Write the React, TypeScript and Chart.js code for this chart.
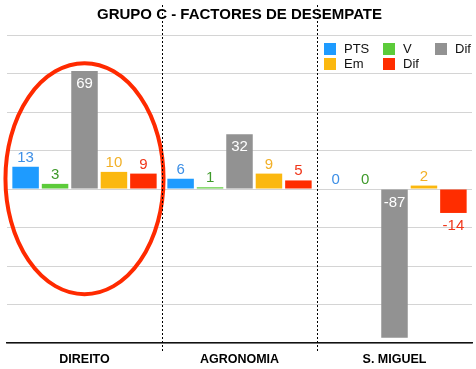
import React, { useEffect, useRef } from "react";
import { Chart, registerables } from "chart.js";

Chart.register(...registerables);

const TITLE = "GRUPO C - FACTORES DE DESEMPATE";
const categories = ["DIREITO", "AGRONOMIA", "S. MIGUEL"];
const seriesNames = ["PTS", "V", "Dif", "Em", "Dif"];
const ptsValues = [13, 6, 0];
const vValues = [3, 1, 0];
const difGrayValues = [69, 32, -87];
const emValues = [10, 9, 2];
const difRedValues = [9, 5, -14];
const barColors = ["#1E9BFF", "#5CCB3A", "#929292", "#FBB80F", "#FF2D00"];
const labelColors = ["#3D8FE6", "#3F9A2B", "#FFFFFF", "#F2B027", "#F0361A"];
const yMin = -90;
const yMax = 90;
const yStep = 22.5;
// legend layout: rows of series indices
const legendRows = [
  [0, 1, 2],
  [3, 4],
];
const legendColOffsets = [0, 59, 111];

const FONT = "'Liberation Sans', Arial, Helvetica, sans-serif";

const overlayPlugin = {
  id: "overlay",
  afterDatasetsDraw(chart: any) {
    const ctx = chart.ctx;
    const xs = chart.scales.x;
    const ys = chart.scales.y;
    // data labels
    ctx.save();
    ctx.font = `15px ${FONT}`;
    ctx.textAlign = "center";
    ctx.textBaseline = "alphabetic";
    chart.data.datasets.forEach((ds: any, di: number) => {
      const meta = chart.getDatasetMeta(di);
      meta.data.forEach((bar: any, i: number) => {
        const v = ds.data[i];
        const { x, y, base } = bar.getProps(["x", "y", "base"], true);
        ctx.fillStyle = labelColors[di];
        let ty;
        if (di === 2) {
          ty = Math.min(y, base) + 17;
        } else if (v >= 0) {
          ty = y - 5;
        } else {
          ty = y + 17;
        }
        ctx.fillText(String(v), x, ty);
      });
    });
    ctx.restore();

    // ellipse around first group
    const cx = xs.getPixelForValue(0);
    const catW = xs.getPixelForValue(1) - xs.getPixelForValue(0);
    const cy = ys.getPixelForValue(6);
    const ry = cy - ys.getPixelForValue(73.5);
    const rx = catW * 0.51;
    ctx.save();
    ctx.strokeStyle = "#FF2A00";
    ctx.lineWidth = 4;
    ctx.beginPath();
    ctx.ellipse(cx, cy, rx, ry, 0, 0, Math.PI * 2);
    ctx.stroke();
    ctx.restore();
  },
  afterDraw(chart: any) {
    const ctx = chart.ctx;
    const area = chart.chartArea;
    const xs = chart.scales.x;
    // title
    ctx.save();
    ctx.font = `bold 15px ${FONT}`;
    ctx.fillStyle = "#000";
    ctx.textAlign = "center";
    ctx.textBaseline = "alphabetic";
    ctx.fillText(TITLE, (area.left + area.right) / 2, 18.5);
    ctx.restore();

    // dividers
    ctx.save();
    ctx.strokeStyle = "#000";
    ctx.lineWidth = 1;
    ctx.setLineDash([2, 2]);
    for (let i = 0; i < categories.length - 1; i++) {
      const px = Math.round((xs.getPixelForValue(i) + xs.getPixelForValue(i + 1)) / 2) + 0.5;
      ctx.beginPath();
      ctx.moveTo(px, 5);
      ctx.lineTo(px, area.bottom + 8);
      ctx.stroke();
    }
    ctx.restore();

    // legend
    ctx.save();
    ctx.font = `13px ${FONT}`;
    ctx.textBaseline = "middle";
    ctx.textAlign = "left";
    const lx0 = area.right - 148;
    legendRows.forEach((row, r) => {
      const yTop = 43 + r * 15;
      row.forEach((si, c) => {
        const lx = lx0 + legendColOffsets[c];
        ctx.fillStyle = barColors[si];
        ctx.fillRect(lx, yTop, 12, 12);
        ctx.fillStyle = "#111";
        ctx.fillText(seriesNames[si], lx + 20, yTop + 6.5);
      });
    });
    ctx.restore();
  },
};

export default function App() {
  const ref = useRef<HTMLCanvasElement>(null);
  useEffect(() => {
    const series = [ptsValues, vValues, difGrayValues, emValues, difRedValues];
    const chart = new Chart(ref.current!, {
      type: "bar",
      data: {
        labels: categories,
        datasets: series.map((d, i) => ({
          label: seriesNames[i],
          data: d,
          backgroundColor: barColors[i],
          borderWidth: 0,
          categoryPercentage: 0.95,
          barPercentage: 0.9,
        })),
      },
      options: {
        responsive: false,
        animation: false,
        devicePixelRatio: 1,
        layout: { padding: { left: 7, right: 4, top: 35, bottom: 0 } },
        plugins: {
          legend: { display: false },
          title: { display: false },
          tooltip: { enabled: false },
        },
        scales: {
          x: {
            grid: { display: false, drawTicks: false },
            border: { display: true, color: "#111", width: 1.5 },
            ticks: {
              color: "#000",
              font: { family: FONT, size: 12.5, weight: "bold" },
              padding: 9,
            },
            afterFit(scale: any) {
              scale.height = 26;
            },
          },
          y: {
            min: yMin,
            max: yMax,
            ticks: { display: false, stepSize: yStep },
            grid: { color: "#D4D4D4", drawTicks: false, lineWidth: 1 },
            border: { display: false },
          },
        },
      },
      plugins: [overlayPlugin],
    });
    return () => chart.destroy();
  }, []);
  return (
    <div style={{ position: "fixed", left: 0, top: 0, width: 476, height: 369, background: "#fff" }}>
      <canvas ref={ref} width={476} height={369} style={{ width: 476, height: 369 }} />
    </div>
  );
}
